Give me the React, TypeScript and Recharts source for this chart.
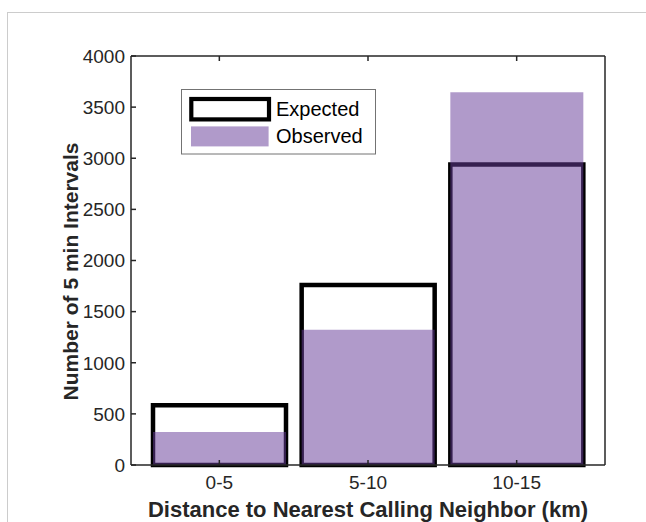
import React from 'react';
import { BarChart, Bar, XAxis, YAxis, Legend, Label } from 'recharts';

const categories = ['0-5', '5-10', '10-15'];
const expected = [585, 1760, 2940];
const observed = [323, 1322, 3645];
const yTicks = [0, 500, 1000, 1500, 2000, 2500, 3000, 3500, 4000];

const data = categories.map((c, i) => ({
  range: c,
  expected: expected[i],
  observed: observed[i],
}));

const AXIS = '#262626';
const FONT = '"Liberation Sans", Arial, sans-serif';
const PURPLE = '#673E9A';
const PURPLE_ALPHA = 0.52;
const TICK_LEN = 5;
const AXIS_W = 1.5;

const BottomTick = ({ x, y, payload }: any) => (
  <g>
    <line x1={x} y1={y} x2={x} y2={y - TICK_LEN} stroke={AXIS} strokeWidth={AXIS_W} />
    <text x={x} y={y + 24} textAnchor="middle" fill={AXIS} fontSize={19} fontFamily={FONT}>
      {payload.value}
    </text>
  </g>
);

const TopTick = ({ x, y }: any) => (
  <line x1={x} y1={y} x2={x} y2={y + TICK_LEN} stroke={AXIS} strokeWidth={AXIS_W} />
);

const LeftTick = ({ x, y, payload }: any) => (
  <g>
    <line x1={x + 6} y1={y} x2={x + 6 + TICK_LEN} y2={y} stroke={AXIS} strokeWidth={AXIS_W} />
    <text x={x} y={y} dy="0.36em" textAnchor="end" fill={AXIS} fontSize={19} fontFamily={FONT}>
      {payload.value}
    </text>
  </g>
);

const RightTick = ({ x, y }: any) => (
  <line x1={x} y1={y} x2={x - TICK_LEN} y2={y} stroke={AXIS} strokeWidth={AXIS_W} />
);

const LegendBox = ({ payload }: any) => {
  const items = payload || [];
  const exp = items.find((p: any) => p.dataKey === 'expected');
  const obs = items.find((p: any) => p.dataKey === 'observed');
  return (
    <svg width={196} height={66} style={{ display: 'block' }}>
      <rect x={0.5} y={0.5} width={194} height={64.5} fill="#fff" stroke="#737373" strokeWidth={1} />
      <rect x={10.3} y={10} width={77.7} height={20.4} fill="none" stroke="#000" strokeWidth={4.2} />
      <text x={95} y={27.4} fontSize={20} fontFamily={FONT} fill="#000">
        {exp ? exp.value : 'Expected'}
      </text>
      <rect x={10} y={37.4} width={77.6} height={20} fill={PURPLE} fillOpacity={PURPLE_ALPHA} />
      <text x={95} y={54} fontSize={20} fontFamily={FONT} fill="#000">
        {obs ? obs.value : 'Observed'}
      </text>
    </svg>
  );
};

export default function App() {
  return (
    <div
      style={{
        position: 'absolute',
        left: 0,
        top: 0,
        width: 646,
        height: 522,
        overflow: 'hidden',
        background: '#fff',
      }}
    >
      <div
        style={{
          position: 'absolute',
          left: 7,
          top: 12,
          width: 700,
          height: 600,
          borderTop: '1px solid #cccccc',
          borderLeft: '1px solid #cccccc',
        }}
      />
      <div style={{ position: 'absolute', left: 0, top: 0 }}>
        <BarChart
          width={646}
          height={522}
          data={data}
          margin={{ top: 55, right: 40, bottom: 27, left: 71 }}
        >
          <Bar
            dataKey="expected"
            name="Expected"
            xAxisId="bottom"
            yAxisId="left"
            barSize={133}
            fill="none"
            stroke="#000"
            strokeWidth={4.5}
            isAnimationActive={false}
          />
          <Bar
            dataKey="observed"
            name="Observed"
            xAxisId="top"
            yAxisId="left"
            barSize={133}
            fill={PURPLE}
            fillOpacity={PURPLE_ALPHA}
            isAnimationActive={false}
          />
          <XAxis
            xAxisId="bottom"
            dataKey="range"
            orientation="bottom"
            height={30}
            padding={{ left: 14, right: 14 }}
            tickSize={0}
            tickMargin={0}
            tickLine={false}
            axisLine={{ stroke: AXIS, strokeWidth: AXIS_W }}
            tick={<BottomTick />}
            interval={0}
          >
            <Label
              content={({ viewBox }: any) => (
                <text
                  x={viewBox.x + viewBox.width / 2}
                  y={viewBox.y + 52}
                  textAnchor="middle"
                  fontSize={22}
                  fontWeight="bold"
                  fontFamily={FONT}
                  fill={AXIS}
                >
                  Distance to Nearest Calling Neighbor (km)
                </text>
              )}
            />
          </XAxis>
          <XAxis
            xAxisId="top"
            dataKey="range"
            orientation="top"
            height={1}
            padding={{ left: 14, right: 14 }}
            tickSize={0}
            tickMargin={0}
            tickLine={false}
            axisLine={{ stroke: AXIS, strokeWidth: AXIS_W }}
            tick={<TopTick />}
            interval={0}
          />
          <YAxis
            yAxisId="left"
            orientation="left"
            width={60}
            domain={[0, 4000]}
            ticks={yTicks}
            interval={0}
            tickSize={0}
            tickMargin={6}
            tickLine={false}
            axisLine={{ stroke: AXIS, strokeWidth: AXIS_W }}
            tick={<LeftTick />}
          >
            <Label
              content={({ viewBox }: any) => {
                const cx = viewBox.x + 7;
                const cy = viewBox.y + viewBox.height / 2 + 11;
                return (
                  <text
                    x={cx}
                    y={cy}
                    transform={`rotate(-90 ${cx} ${cy})`}
                    textAnchor="middle"
                    fontSize={21}
                    fontWeight="bold"
                    fontFamily={FONT}
                    fill={AXIS}
                  >
                    Number of 5 min Intervals
                  </text>
                );
              }}
            />
          </YAxis>
          <YAxis
            yAxisId="right"
            orientation="right"
            width={1}
            domain={[0, 4000]}
            ticks={yTicks}
            interval={0}
            tickSize={0}
            tickMargin={0}
            tickLine={false}
            axisLine={{ stroke: AXIS, strokeWidth: AXIS_W }}
            tick={<RightTick />}
          />
          <Legend
            layout="vertical"
            align="center"
            verticalAlign="middle"
            content={<LegendBox />}
            wrapperStyle={{ left: 181, top: 89, width: 196, height: 66 }}
          />
        </BarChart>
      </div>
    </div>
  );
}
